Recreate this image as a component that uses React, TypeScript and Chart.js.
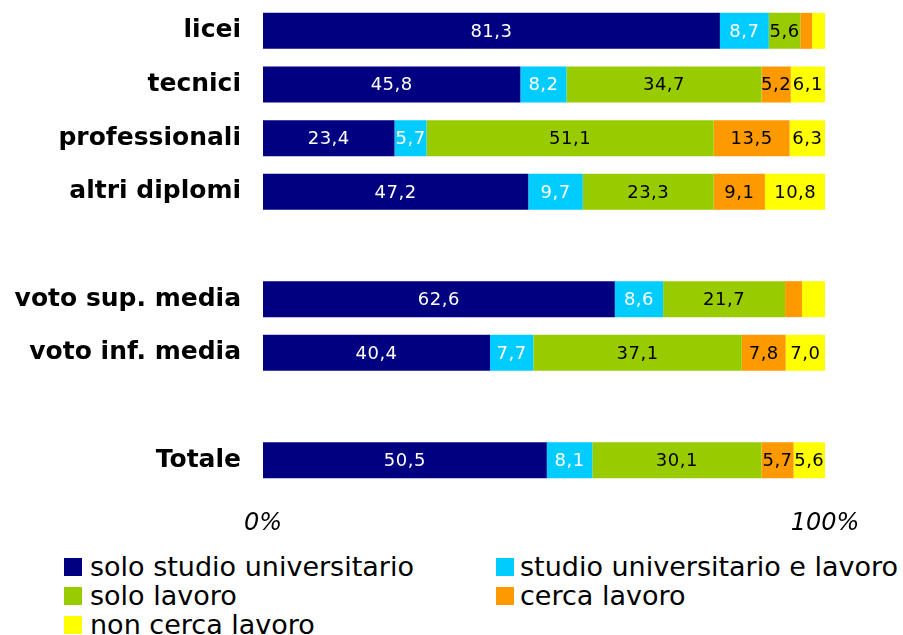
import React, { useEffect, useRef } from "react";
import { Chart, registerables } from "chart.js";

Chart.register(...registerables);

const categories = [
  "licei",
  "tecnici",
  "professionali",
  "altri diplomi",
  "",
  "voto sup. media",
  "voto inf. media",
  "",
  "Totale",
];

const seriesNames = [
  "solo studio universitario",
  "studio universitario e lavoro",
  "solo lavoro",
  "cerca lavoro",
  "non cerca lavoro",
];

const soloStudio = [81.3, 45.8, 23.4, 47.2, null, 62.6, 40.4, null, 50.5];
const studioLavoro = [8.7, 8.2, 5.7, 9.7, null, 8.6, 7.7, null, 8.1];
const soloLavoro = [5.6, 34.7, 51.1, 23.3, null, 21.7, 37.1, null, 30.1];
const cercaLavoro = [2.1, 5.2, 13.5, 9.1, null, 3.0, 7.8, null, 5.7];
const nonCerca = [2.3, 6.1, 6.3, 10.8, null, 4.1, 7.0, null, 5.6];

const xTickValues = [0, 100];
const xTickLabels = ["0%", "100%"];

const colors = ["#000080", "#00CCFF", "#99CC00", "#FF9900", "#FFFF00"];
const labelColors = ["#ffffff", "#ffffff", "#000000", "#000000", "#000000"];

const FONT = "'DejaVu Sans', Verdana, sans-serif";

const valueLabelPlugin = {
  id: "valueLabels",
  afterDatasetsDraw(chart: any) {
    const ctx = chart.ctx;
    ctx.save();
    ctx.font = `18px ${FONT}`;
    try {
      (ctx as any).letterSpacing = "0.5px";
    } catch (e) {}
    ctx.textAlign = "center";
    ctx.textBaseline = "middle";
    chart.data.datasets.forEach((ds: any, di: number) => {
      const meta = chart.getDatasetMeta(di);
      meta.data.forEach((bar: any, i: number) => {
        const v = ds.data[i];
        if (v == null || v < 5) return;
        const cx = (bar.x + bar.base) / 2;
        ctx.fillStyle = labelColors[di];
        ctx.fillText(v.toFixed(1).replace(".", ","), cx, bar.y + 1);
      });
    });
    ctx.restore();
  },
};

const legendRows = [
  [0, 1],
  [2, 3],
  [4],
];

export default function App() {
  const canvasRef = useRef<HTMLCanvasElement>(null);

  useEffect(() => {
    if (!canvasRef.current) return;
    const allSeries = [soloStudio, studioLavoro, soloLavoro, cercaLavoro, nonCerca];
    const chart = new Chart(canvasRef.current, {
      type: "bar",
      data: {
        labels: categories,
        datasets: allSeries.map((d, i) => ({
          label: seriesNames[i],
          data: d,
          backgroundColor: colors[i],
          borderWidth: 0,
          categoryPercentage: 1,
          barPercentage: 0.67,
        })),
      },
      options: {
        indexAxis: "y",
        responsive: false,
        animation: false,
        maintainAspectRatio: false,
        layout: { padding: { top: 4, right: 78, left: 0, bottom: 0 } },
        plugins: {
          legend: { display: false },
          tooltip: { enabled: false },
        },
        scales: {
          x: {
            stacked: true,
            min: 0,
            max: 100,
            grid: { display: false, drawTicks: false },
            border: { display: false },
            afterBuildTicks(scale: any) {
              scale.ticks = xTickValues.map((v) => ({ value: v }));
            },
            afterFit(scale: any) {
              scale.height = 58;
              scale.paddingLeft = 0;
              scale.paddingRight = 0;
            },
            ticks: {
              color: "#000",
              padding: 22,
              maxRotation: 0,
              autoSkip: false,
              font: { family: FONT, size: 24, style: "italic" },
              callback: (v: any) => xTickLabels[xTickValues.indexOf(Number(v))],
            },
          },
          y: {
            stacked: true,
            grid: { display: false, drawTicks: false },
            border: { display: false },
            afterFit(scale: any) {
              scale.width = 263;
              scale.paddingTop = 0;
              scale.paddingBottom = 0;
            },
            ticks: {
              color: "#000",
              padding: 22,
              autoSkip: false,
              font: { family: FONT, size: 25, weight: "bold" },
            },
          },
        },
      },
      plugins: [valueLabelPlugin],
    } as any);
    return () => chart.destroy();
  }, []);

  const colX = [64, 496];
  const textX = [90, 520];
  const rowTop = [558, 587, 616];

  return (
    <div>
      <canvas
        ref={canvasRef}
        width={903}
        height={545}
        style={{ position: "absolute", left: 0, top: 0, width: 903, height: 545 }}
      />
      {legendRows.map((row, ri) =>
        row.map((si, ci) => (
          <React.Fragment key={si}>
            <div
              style={{
                position: "absolute",
                left: colX[ci],
                top: rowTop[ri],
                width: 18,
                height: 18,
                background: colors[si],
              }}
            />
            <div
              style={{
                position: "absolute",
                left: textX[ci],
                top: rowTop[ri] - 5,
                fontFamily: FONT,
                fontSize: 27,
                lineHeight: "27px",
                color: "#000",
                whiteSpace: "nowrap",
              }}
            >
              {seriesNames[si]}
            </div>
          </React.Fragment>
        ))
      )}
    </div>
  );
}
